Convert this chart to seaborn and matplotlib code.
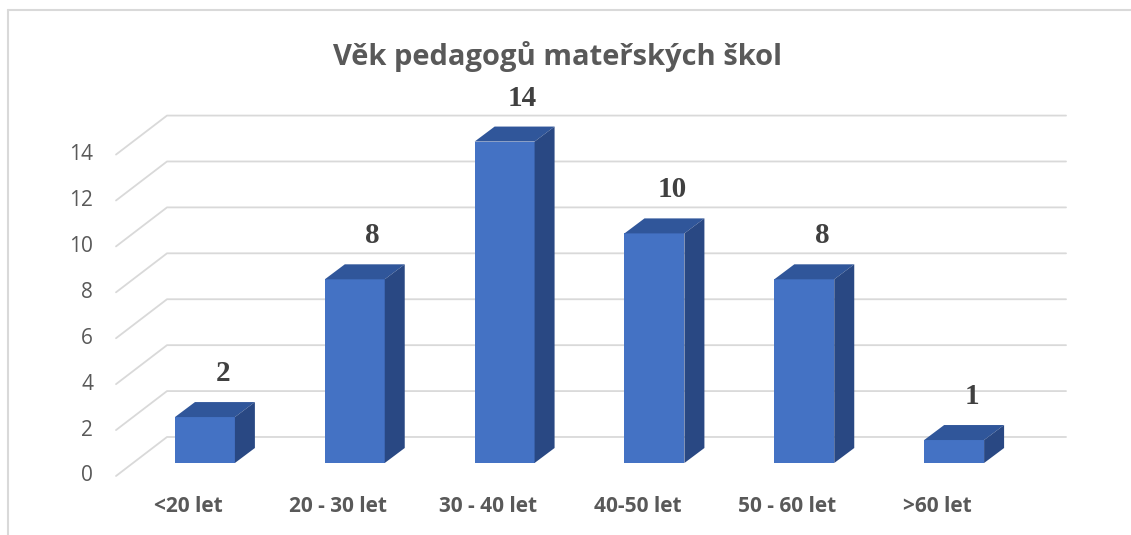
import seaborn as sns
import matplotlib.pyplot as plt
import pandas as pd
from matplotlib.transforms import ScaledTranslation, IdentityTransform
from matplotlib.patches import Polygon
from matplotlib.lines import Line2D

# data
kategorie = ['<20 let', '20 - 30 let', '30 - 40 let', '40-50 let', '50 - 60 let', '>60 let']
pocty = [2, 8, 14, 10, 8, 1]
y_ticks = [0, 2, 4, 6, 8, 10, 12, 14]
nadpis = 'Věk pedagogů mateřských škol'

df = pd.DataFrame({'vek': kategorie, 'pocet': pocty})

sns.set_theme(style="white")
plt.rcParams['font.family'] = ['Open Sans', 'DejaVu Sans']

fig = plt.figure(figsize=(11.31, 5.35), dpi=100)
ax = fig.add_axes([0.1176, 0.1346, 0.7949, 0.6008])
ax.patch.set_visible(False)

front_col = "#4472C4"
top_col = "#30569A"
side_col = "#294883"
grid_col = "#D9D9D9"
text_col = "#595959"

sns.barplot(data=df, x='vek', y='pocet', color=front_col, width=0.4,
            saturation=1, linewidth=0, ax=ax, zorder=3)
ax.set_xlim(-0.48, 5.52)
ax.set_ylim(0, 14)
ax.set_xticks([])
ax.set_yticks([])
ax.set_xlabel('')
ax.set_ylabel('')
sns.despine(ax=ax, left=True, bottom=True)
xl = ax.get_xlim()


def shift(dx, dy):
    # pixel offset -> transform for the pseudo 3D planes
    return ax.transData + ScaledTranslation(dx / 100, dy / 100, fig.dpi_scale_trans)


def px(x, y, dx=0, dy=0):
    X, Y = ax.transData.transform((x, y))
    return X + dx, Y + dy


# gridlines: front plane -> back wall
front_off = (-17, -13)
back_off = (34, 26)
for v in y_ticks:
    p0 = px(xl[0], v, *front_off)
    p1 = px(xl[0], v, *back_off)
    p2 = px(xl[1], v, *back_off)
    ln = Line2D([p0[0], p1[0], p2[0]], [p0[1], p1[1], p2[1]], color=grid_col,
                lw=1.3, transform=IdentityTransform(), zorder=1, clip_on=False)
    ax.add_artist(ln)
    ax.text(xl[0], v, str(v), transform=shift(-40, -13), ha='right', va='center',
            fontsize=15, color=text_col)

# 3D faces of the bars
depth = (20, 15)
for bar in ax.patches[:len(pocty)]:
    x0 = bar.get_x()
    x1 = x0 + bar.get_width()
    h = bar.get_height()
    a = px(x0, h)
    b = px(x1, h)
    c = px(x1, h, *depth)
    d = px(x0, h, *depth)
    top = Polygon([a, b, c, d], closed=True, facecolor=top_col, edgecolor='none',
                  transform=IdentityTransform(), zorder=4, clip_on=False)
    ax.add_artist(top)
    e = px(x1, 0)
    f = px(x1, 0, *depth)
    side = Polygon([e, b, c, f], closed=True, facecolor=side_col, edgecolor='none',
                   transform=IdentityTransform(), zorder=4, clip_on=False)
    ax.add_artist(side)
    ax.text((x0 + x1) / 2, h, f'{h:g}', transform=shift(18, 36), ha='center',
            va='baseline', fontsize=21, fontweight='bold', color='#404040',
            family=['Liberation Serif', 'DejaVu Serif'], zorder=5)

# category labels under the front plane
for i, lab in enumerate(kategorie):
    ax.text(i, 0, lab, transform=shift(-17, -44), ha='center', va='center',
            fontsize=15, fontweight='bold', color=text_col)

fig.text(0.493, 0.895, nadpis, ha='center', va='center', fontsize=21,
         fontweight='bold', color=text_col)

# chart frame (left and top edges only)
fig.add_artist(Line2D([8 / 1131, 8 / 1131], [0, 1 - 10 / 535], color=grid_col, lw=1.5,
                      transform=fig.transFigure))
fig.add_artist(Line2D([8 / 1131, 1], [1 - 10 / 535, 1 - 10 / 535], color=grid_col, lw=1.5,
                      transform=fig.transFigure))

fig.savefig("out.png", dpi=100)
